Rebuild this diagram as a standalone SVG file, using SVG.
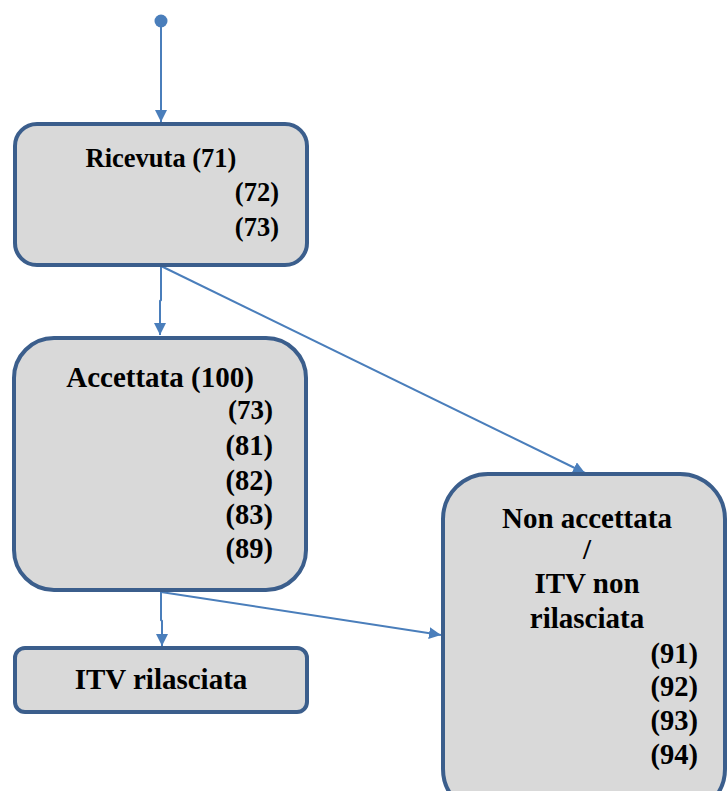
<svg xmlns="http://www.w3.org/2000/svg" width="728" height="791" viewBox="0 0 728 791">
<style>
.box{fill:#d9d9d9;stroke:#3b5e8c;stroke-width:4}
.t{font-family:"Liberation Serif","Times New Roman",serif;font-weight:bold;fill:#000}
.c{text-anchor:middle}
.r{text-anchor:end}
.ln{stroke:#4a7ebb;stroke-width:2;fill:none}
</style>
<defs>
<marker id="ah" viewBox="0 0 12 12" refX="12" refY="6" markerWidth="12" markerHeight="12" markerUnits="userSpaceOnUse" orient="auto">
<path d="M0,0 L12,6 L0,12 Z" fill="#4a7ebb"/>
</marker>
</defs>
<rect width="728" height="791" fill="#fff"/>
<g id="connectors">
<circle cx="161" cy="21" r="6.5" fill="#4a7ebb"/>
<line class="ln" x1="161" y1="21" x2="161" y2="122" marker-end="url(#ah)"/>
<polyline class="ln" points="161,266 161,300 160,301 160,335" marker-end="url(#ah)"/>
<line class="ln" x1="161" y1="266" x2="585" y2="473" marker-end="url(#ah)"/>
<polyline class="ln" points="161,592 161,620 162,621 162,646" marker-end="url(#ah)"/>
<line class="ln" x1="161" y1="592" x2="441" y2="635" marker-end="url(#ah)"/>
</g>
<g id="ricevuta">
<rect class="box" x="15" y="124" width="292" height="141" rx="22"/>
<text class="t c" x="161" y="167" font-size="26.5">Ricevuta (71)</text>
<text class="t r" x="279" y="201" font-size="26.5">(72)</text>
<text class="t r" x="279" y="236" font-size="26.5">(73)</text>
</g>
<g id="accettata">
<rect class="box" x="14" y="338" width="292" height="252" rx="40"/>
<text class="t c" x="160" y="387" font-size="29">Accettata (100)</text>
<text class="t r" x="273" y="419" font-size="27">(73)</text>
<text class="t r" x="273" y="455" font-size="28.5">(81)</text>
<text class="t r" x="273" y="490" font-size="28.5">(82)</text>
<text class="t r" x="273" y="524" font-size="28.5">(83)</text>
<text class="t r" x="273" y="558" font-size="28.5">(89)</text>
</g>
<g id="itv-rilasciata">
<rect class="box" x="15" y="648" width="292" height="64" rx="10"/>
<text class="t c" x="161" y="689" font-size="29">ITV rilasciata</text>
</g>
<g id="non-accettata">
<rect class="box" x="443" y="474" width="282" height="340" rx="45"/>
<text class="t c" x="587" y="528" font-size="29">Non accettata</text>
<text class="t c" x="587" y="559" font-size="29">/</text>
<text class="t c" x="587" y="593" font-size="29">ITV non</text>
<text class="t c" x="587" y="628" font-size="29">rilasciata</text>
<text class="t r" x="698" y="663" font-size="28.5">(91)</text>
<text class="t r" x="698" y="696" font-size="28.5">(92)</text>
<text class="t r" x="698" y="730" font-size="28.5">(93)</text>
<text class="t r" x="698" y="764" font-size="28.5">(94)</text>
</g>
</svg>
